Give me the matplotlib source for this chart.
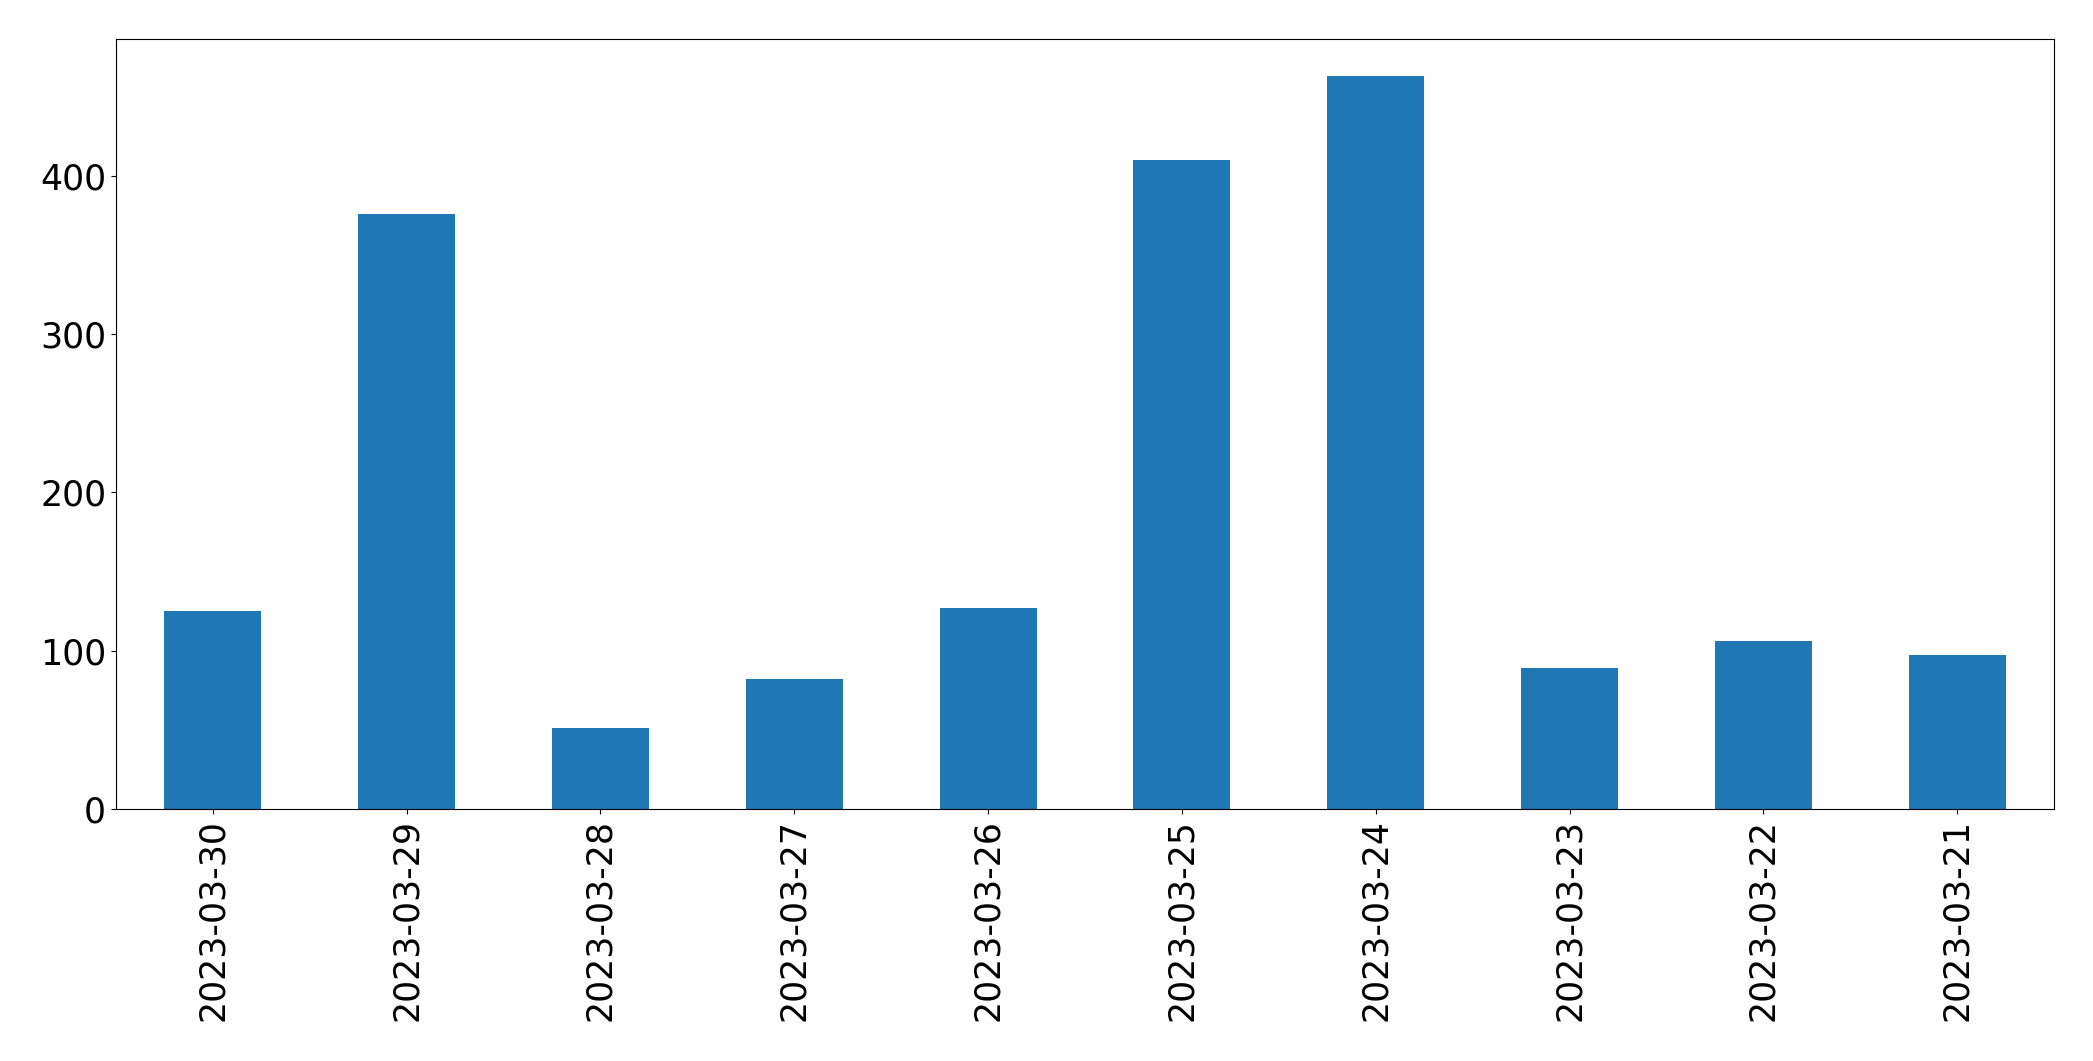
import matplotlib
matplotlib.use('Agg')
import matplotlib.pyplot as plt
import numpy as np

#- Data
dates = ['2023-03-30', '2023-03-29', '2023-03-28', '2023-03-27', '2023-03-26',
         '2023-03-25', '2023-03-24', '2023-03-23', '2023-03-22', '2023-03-21']
counts = [125, 376, 51, 82, 127, 410, 463, 89, 106, 97]

fig = plt.figure(figsize=(20.93, 10.61), dpi=100)
ax = fig.add_axes([0.0554, 0.2375, 0.9814 - 0.0554, 0.963 - 0.2375])

x = np.arange(len(dates))
ax.bar(x, counts, width=0.5, color='#1f77b4')
ax.set_xlim(-0.5, len(dates) - 0.5)
ax.set_ylim(0, max(counts) * 1.05)
ax.set_xticks(x)
ax.set_xticklabels(dates, rotation=90)
ax.set_yticks([0, 100, 200, 300, 400])
plt.setp(ax.get_xticklabels(), fontsize=25)
plt.setp(ax.get_yticklabels(), fontsize=25)

plt.savefig('out.png', dpi=100)
